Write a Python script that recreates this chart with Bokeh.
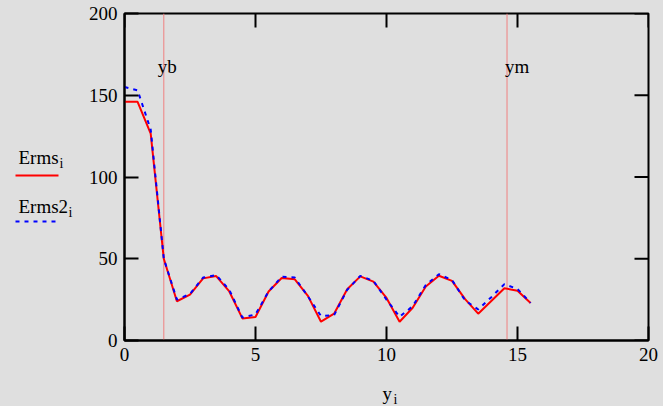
from bokeh.plotting import figure
from bokeh.layouts import row, column
from bokeh.models import Range1d, LinearAxis, FixedTicker, Span
from bokeh.core.properties import value
from bokeh.embed import file_html
from bokeh.resources import INLINE

# ---- data ----
y_i = [0.0, 0.5, 1.0, 1.5, 2.0, 2.5, 3.0, 3.5, 4.0, 4.5, 5.0, 5.5, 6.0, 6.5, 7.0, 7.5,
       8.0, 8.5, 9.0, 9.5, 10.0, 10.5, 11.0, 11.5, 12.0, 12.5, 13.0, 13.5, 14.0, 14.5, 15.0, 15.5]
erms = [146, 146, 126.5, 50, 24, 28, 38, 39.4, 30, 13.5, 14.4, 30, 38.2, 37.4, 27.3, 11.5,
        16.4, 31.4, 39.2, 36, 26, 11.5, 20, 33, 39.6, 36.5, 25.3, 16.4, 24.2, 32, 30.4, 23]
erms2 = [155, 153, 129, 50, 25, 28.5, 38.5, 40, 31, 14, 16, 30, 39, 38.5, 27, 15,
         15.5, 31, 39.5, 36.5, 25, 14.5, 21, 34, 40.5, 37, 24.5, 19, 26.5, 34.5, 31.5, 23]
x_ticks = [0, 5, 10, 15, 20]
y_ticks = [0, 50, 100, 150, 200]
yb = 1.5
ym = 14.6

BG = "#dfdfdf"
FONT = "Liberation Serif"
W, H = 663, 406
LW = 85            # width of the legend strip on the left
TH = 28            # height of the x-title strip at the bottom
MW, MH = W - LW, H - TH
L, R, T = 124 - LW, 15, 13
B = MH - 340
SX = (MW - L - R) / 20.0
SY = (MH - T - B) / 200.0
TICK = 14


def blank(w, h, x0, x1, y0, y1, top=0, bottom=0):
    f = figure(width=w, height=h, x_range=Range1d(x0, x1), y_range=Range1d(y0, y1),
               output_backend="svg", toolbar_location=None,
               x_axis_type=None, y_axis_type=None,
               min_border=0, min_border_left=0, min_border_right=0,
               min_border_top=top, min_border_bottom=bottom)
    f.background_fill_color = BG
    f.border_fill_color = BG
    f.outline_line_color = None
    f.frame_align = False
    return f


# ---- main plot ----
p = figure(width=MW, height=MH, x_range=Range1d(0, 20), y_range=Range1d(0, 200),
           output_backend="svg", toolbar_location=None,
           x_axis_type=None, y_axis_type=None,
           min_border_left=L, min_border_right=R, min_border_top=T, min_border_bottom=B)
p.background_fill_color = BG
p.border_fill_color = BG
p.outline_line_color = "black"
p.outline_line_width = 2
p.frame_align = False


def mk_axis(ticks):
    return LinearAxis(
        ticker=FixedTicker(ticks=ticks),
        major_tick_in=TICK, major_tick_out=0, minor_tick_in=0, minor_tick_out=0,
        axis_line_width=2, axis_line_color="black",
        major_tick_line_width=2, major_tick_line_color="black",
        major_label_text_font=FONT, major_label_text_font_size="19px",
        major_label_text_color="black", major_label_standoff=7,
    )


p.add_layout(mk_axis(x_ticks), "below")
p.add_layout(mk_axis(y_ticks), "left")

# inward ticks on the top and right edges
p.segment(x0=x_ticks, y0=[200] * len(x_ticks), x1=x_ticks, y1=[200 - TICK / SY] * len(x_ticks),
          line_color="black", line_width=2)
p.segment(x0=[20] * len(y_ticks), y0=y_ticks, x1=[20 - TICK / SX] * len(y_ticks), y1=y_ticks,
          line_color="black", line_width=2)

for loc in (yb, ym):
    p.add_layout(Span(location=loc, dimension="height", line_color="#f08080",
                      line_width=1, level="underlay"))

p.line(y_i, erms, line_color="red", line_width=2)
p.line(y_i, erms2, line_color="blue", line_width=2, line_dash="4 5")

# marker names, placed relative to their lines
p.text(x=[yb], y=[200 - (66 - T) / SY], text=["yb"], x_offset=-6,
       text_font=value(FONT), text_font_size="19px", text_color="black",
       text_align="left", text_baseline="alphabetic")
p.text(x=[ym], y=[200 - (66 - T) / SY], text=["ym"], x_offset=-2,
       text_font=value(FONT), text_font_size="19px", text_color="black",
       text_align="left", text_baseline="alphabetic")

# ---- legend strip: frame spans the same rows as the main frame, coords = canvas px ----
lg = blank(LW, MH, 0, LW, MH - B, T, top=T, bottom=B)


def ltxt(f, x, y, t, size):
    f.text(x=[x], y=[y], text=[t], text_font=value(FONT), text_font_size=size,
           text_color="black", text_align="left", text_baseline="alphabetic")


ltxt(lg, 18, 157, "Erms", "19px")
ltxt(lg, 59, 163, "i", "14px")
lg.line([15, 58], [175, 175], line_color="red", line_width=2)
ltxt(lg, 18, 206, "Erms2", "19px")
ltxt(lg, 68, 212, "i", "14px")
lg.line([15, 58], [221, 221], line_color="blue", line_width=2, line_dash="4 5")

# ---- x-title strip (coords = canvas px) ----
tt = blank(W, TH, 0, W, H, MH)
ltxt(tt, 382, 393, "y", "19px")
ltxt(tt, 393, 399, "i", "14px")

layout = column(row(lg, p, spacing=0, styles={"background-color": BG}), tt, spacing=0,
                styles={"background-color": BG})
open("out.html", "w").write(file_html(layout, INLINE))
